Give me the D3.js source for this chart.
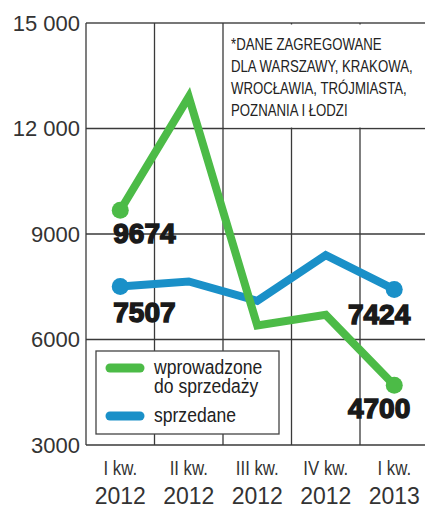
<!DOCTYPE html>
<html>
<head>
<meta charset="utf-8">
<script src="https://cdn.jsdelivr.net/npm/d3@7"></script>
<style>
  body { margin: 0; background: #fff; }
  svg { display: block; }
</style>
</head>
<body>
<div id="chart"></div>
<script>
// quarters on the x axis (two-line labels)
const quarters = ["I kw.|2012", "II kw.|2012", "III kw.|2012", "IV kw.|2012", "I kw.|2013"];
const introduced = [9674, 12900, 6400, 6700, 4700];   // wprowadzone do sprzedaży
const sold = [7507, 7650, 7100, 8400, 7424];          // sprzedane
const yTicks = [3000, 6000, 9000, 12000, 15000];
const tickLabels = ["3000", "6000", "9000", "12 000", "15 000"];
const noteLines = ["*DANE ZAGREGOWANE", "DLA WARSZAWY, KRAKOWA,", "WROCŁAWIA, TRÓJMIASTA,", "POZNANIA I ŁODZI"];
const legendItems = [
    { name: ["wprowadzone", "do sprzedaży"], color: "#4cbb47" },
    { name: ["sprzedane"], color: "#1a90c8" }
];

const W = 425, H = 505;
const margin = { left: 86, top: 23, bottom: 445 };
const colW = 68.5;
const sans = "'Liberation Sans', Arial, sans-serif";

const svg = d3.select("#chart").append("svg")
    .attr("width", W)
    .attr("height", H);

const x = d3.scaleBand().domain(quarters).range([margin.left, margin.left + colW * 5]);
const y = d3.scaleLinear().domain([3000, 15000]).range([margin.bottom, margin.top]);
const cx = q => x(q) + x.bandwidth() / 2;

// condensed look: no narrow font installed, so squeeze horizontally
function squeeze(sel, sx, px, py) {
    sel.attr("x", 0).attr("y", 0)
        .attr("transform", (d, i) => `translate(${px(d, i)},${py(d, i)}) scale(${sx},1)`);
    return sel;
}

const grid = svg.append("g");

// horizontal grid lines
grid.selectAll(".hline")
    .data(yTicks)
    .enter().append("line")
    .attr("x1", margin.left)
    .attr("x2", W)
    .attr("y1", d => y(d))
    .attr("y2", d => y(d))
    .attr("stroke", d => d === 15000 ? "#777" : "#3a3a3a")
    .attr("stroke-width", d => d === 15000 ? 2 : 1.3);

// vertical grid lines (band edges)
grid.selectAll(".vline")
    .data(quarters)
    .enter().append("line")
    .attr("x1", d => x(d))
    .attr("x2", d => x(d))
    .attr("y1", y(15000))
    .attr("y2", y(3000))
    .attr("stroke", "#3a3a3a")
    .attr("stroke-width", 1.3);

// note box covering top right part of the grid
const noteX = x(quarters[2]) + 1;
svg.append("rect")
    .attr("x", noteX)
    .attr("y", y(15000) + 1.5)
    .attr("width", W - noteX)
    .attr("height", y(12000) - y(15000) - 2.5)
    .attr("fill", "#fff");

squeeze(svg.append("g").selectAll("text")
    .data(noteLines)
    .enter().append("text"), 0.8, () => noteX + 7, (d, i) => 50 + i * 22)
    .attr("font-family", sans)
    .attr("font-size", 16.5)
    .attr("fill", "#222")
    .text(d => d);

// y axis labels
svg.append("g").selectAll("text")
    .data(yTicks)
    .enter().append("text")
    .attr("x", 80)
    .attr("y", d => y(d) + 7.5)
    .attr("text-anchor", "end")
    .attr("font-family", sans)
    .attr("font-size", 22)
    .attr("fill", "#333")
    .text((d, i) => tickLabels[i]);

// x axis labels
const xl = svg.append("g").selectAll("g")
    .data(quarters)
    .enter().append("g");
squeeze(xl.append("text"), 0.8, d => cx(d), () => 475)
    .attr("text-anchor", "middle")
    .attr("font-family", sans)
    .attr("font-size", 21)
    .attr("fill", "#333")
    .text(d => d.split("|")[0]);
xl.append("text")
    .attr("x", d => cx(d))
    .attr("y", 504)
    .attr("text-anchor", "middle")
    .attr("font-family", sans)
    .attr("font-size", 23)
    .attr("fill", "#333")
    .text(d => d.split("|")[1]);

// legend box
const lg = svg.append("g");
lg.append("rect")
    .attr("x", 96)
    .attr("y", 351)
    .attr("width", 183)
    .attr("height", 83)
    .attr("fill", "#fff")
    .attr("stroke", "#444")
    .attr("stroke-width", 1.3);
const legendY = [368, 416];
legendItems.forEach((item, i) => {
    lg.append("line")
        .attr("x1", 110)
        .attr("x2", 140)
        .attr("y1", legendY[i])
        .attr("y2", legendY[i])
        .attr("stroke", item.color)
        .attr("stroke-width", 9)
        .attr("stroke-linecap", "round");
    squeeze(lg.selectAll(null)
        .data(item.name)
        .enter().append("text"), 0.9, () => 154, (d, j) => legendY[i] + 6 + j * 19)
        .attr("font-family", sans)
        .attr("font-size", 19.5)
        .attr("fill", "#222")
        .text(d => d);
});

// series lines
const line = d3.line()
    .x((d, i) => cx(quarters[i]))
    .y(d => y(d));

const series = [
    { values: sold, color: "#1a90c8" },
    { values: introduced, color: "#4cbb47" }
];

series.forEach(s => {
    svg.append("path")
        .datum(s.values)
        .attr("d", line)
        .attr("fill", "none")
        .attr("stroke", s.color)
        .attr("stroke-width", 8)
        .attr("stroke-linejoin", "miter");

    // end dots
    const ends = [0, s.values.length - 1];
    svg.selectAll(null)
        .data(ends)
        .enter().append("circle")
        .attr("cx", i => cx(quarters[i]))
        .attr("cy", i => y(s.values[i]))
        .attr("r", 8.5)
        .attr("fill", s.color);
});

// value labels at first and last points
const valueLabels = [
    { v: introduced[0], i: 0, dy: 33 },
    { v: sold[0], i: 0, dy: 35 },
    { v: sold[4], i: 4, dy: 35 },
    { v: introduced[4], i: 4, dy: 33 }
];
svg.append("g").selectAll("text")
    .data(valueLabels)
    .enter().append("text")
    .attr("x", d => d.i === 0 ? cx(quarters[d.i]) - 7 : cx(quarters[d.i]) + 16)
    .attr("y", d => y(d.v) + d.dy)
    .attr("text-anchor", d => d.i === 0 ? "start" : "end")
    .attr("font-family", sans)
    .attr("font-weight", "bold")
    .attr("font-size", 28)
    .attr("fill", "#1a1a1a")
    .attr("stroke", "#1a1a1a")
    .attr("stroke-width", 1.5)
    .text(d => d.v);
</script>
</body>
</html>
